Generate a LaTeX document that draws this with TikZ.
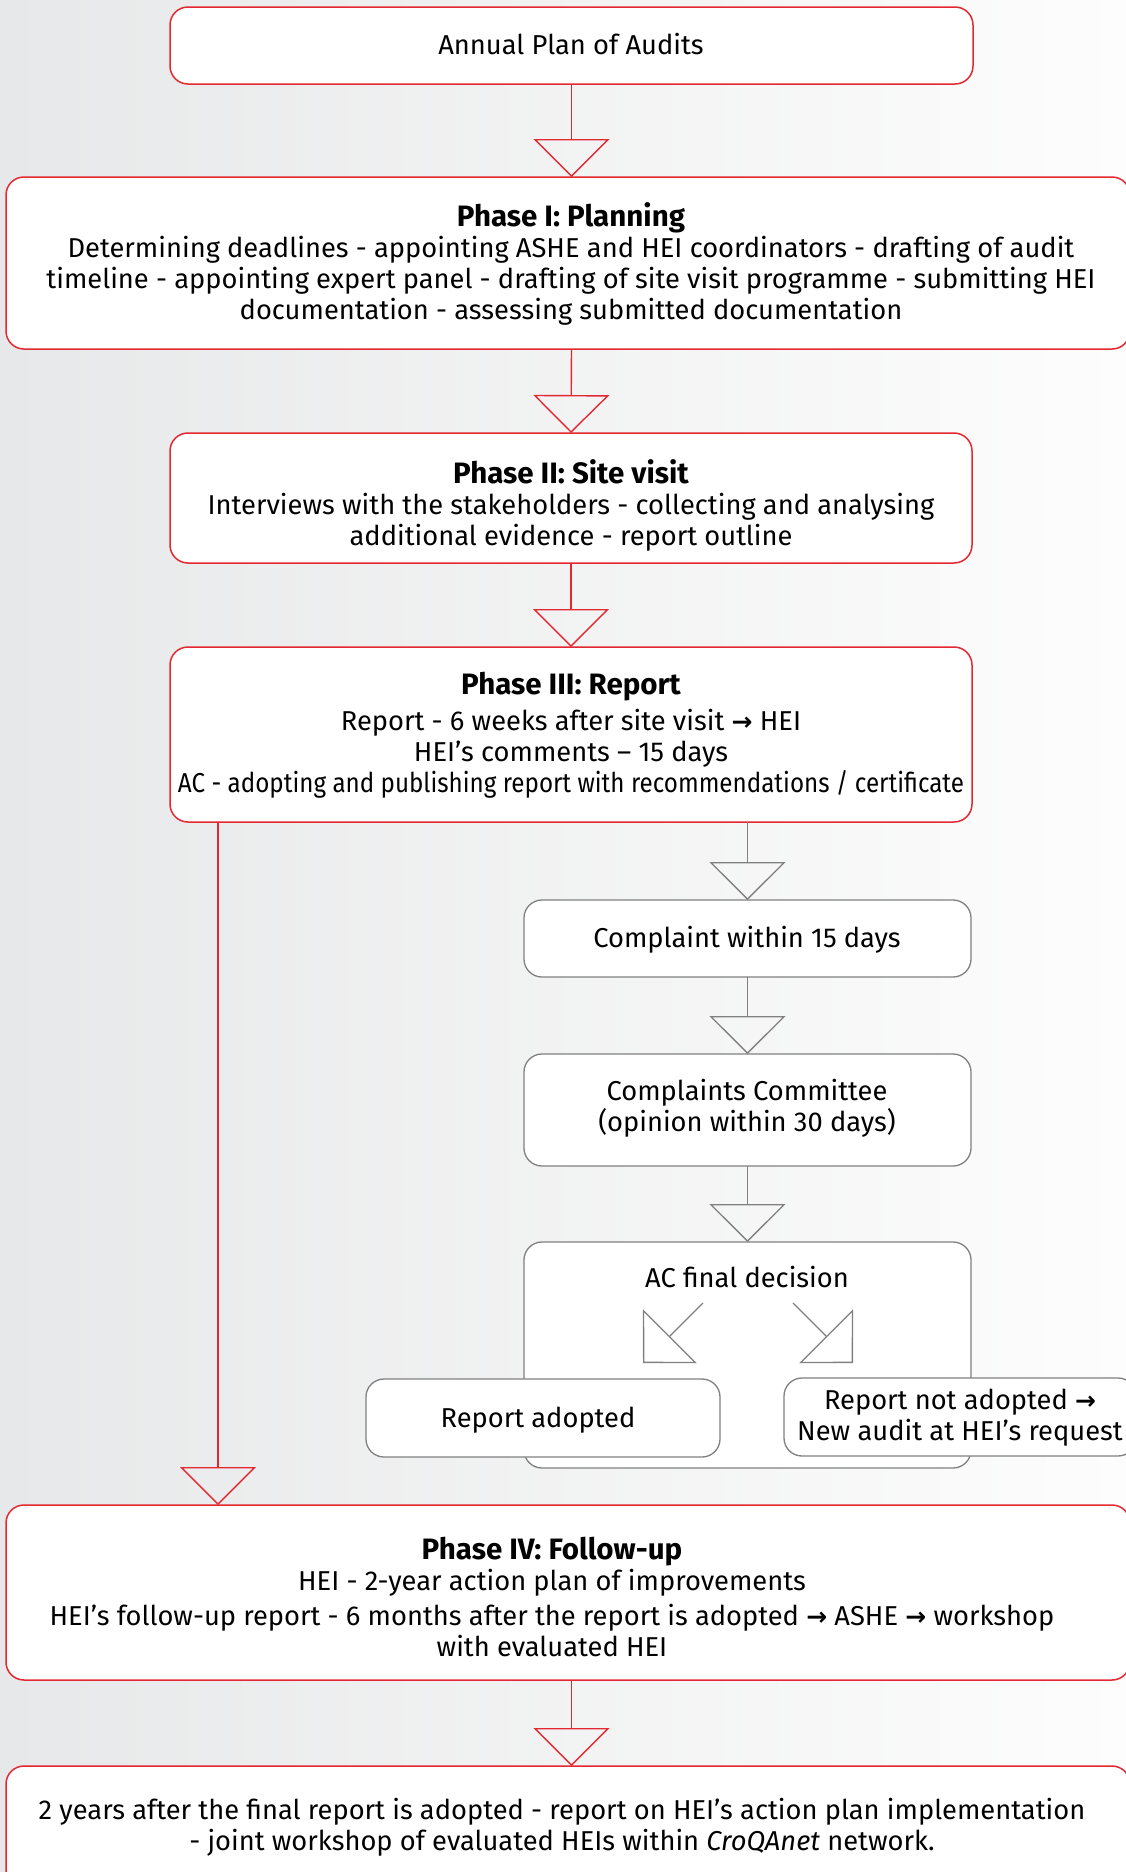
\documentclass[tikz,border=0pt]{standalone}
\usepackage{fontspec}
\usepackage{graphicx}
\setmainfont{Fira Sans}
\newfontfamily\symfont{DejaVu Sans}
\usetikzlibrary{arrows.meta}
\definecolor{ashered}{RGB}{228,40,50}
\definecolor{boxgrey}{RGB}{128,128,128}
\definecolor{bgL}{RGB}{231,232,233}
\definecolor{bgR}{RGB}{253,253,253}
\newcommand{\ar}{{\symfont\bfseries\fontsize{25}{25}\selectfont →}}
\newcommand{\ttl}[1]{{\fontsize{29.5}{31}\selectfont\bfseries #1}}
\tikzset{
  redbox/.style={draw=ashered, line width=1.5pt, fill=white, rounded corners=18pt, inner sep=0pt, outer sep=0pt},
  greybox/.style={draw=boxgrey, line width=1.3pt, fill=white, rounded corners=18pt, inner sep=0pt, outer sep=0pt},
  txt/.style={align=center, inner sep=0pt, font=\fontsize{27.3}{31}\selectfont, text=black},
  redflow/.style={draw=ashered, line width=1.4pt, -{Triangle[open, length=38pt, width=76pt]}},
  greyflow/.style={draw=boxgrey, line width=1.3pt, -{Triangle[open, length=38pt, width=76pt]}},
}
\begin{document}
\begin{tikzpicture}[x=1pt, y=-1pt]
\useasboundingbox (0,0) rectangle (1126,1872);
\clip (0,0) rectangle (1126,1872);
\shade[left color=bgL, right color=bgR] (0,0) rectangle (1126,1872);

% boxes
\node[redbox, minimum width=803pt, minimum height=77pt] (annual) at (571.5,45.5) {};
\node[redbox, minimum width=1124pt, minimum height=172pt] (p1) at (568,263) {};
\node[redbox, minimum width=802pt, minimum height=130pt] (p2) at (571,498) {};
\node[redbox, minimum width=802pt, minimum height=175pt] (p3) at (571,734.5) {};
\node[greybox, minimum width=447pt, minimum height=77pt] (comp) at (747.5,938.5) {};
\node[greybox, minimum width=447pt, minimum height=112pt] (comm) at (747.5,1110) {};
\node[greybox, minimum width=447pt, minimum height=226pt] (acd) at (747.5,1355) {};
\node[redbox, minimum width=1124pt, minimum height=175pt] (p4) at (568,1592.5) {};
\node[redbox, minimum width=1124pt, minimum height=134pt] (final) at (568,1833) {};

% texts
\node[txt] (tannual) at (571,44) {Annual Plan of Audits};
\node[txt] (tp1) at (571,264) {\ttl{Phase I: Planning}\\
Determining deadlines - appointing ASHE and HEI coordinators - drafting of audit\\
timeline - appointing expert panel - drafting of site visit programme - submitting HEI\\
documentation - assessing submitted documentation};
\node[txt] (tp2) at (571,505) {\ttl{Phase II: Site visit}\\
Interviews with the stakeholders - collecting and analysing\\
additional evidence - report outline};
\node[txt] (tp3) at (571,735) {\ttl{Phase III: Report}\\[5pt]
Report - 6 weeks after site visit \ar{} HEI\\
HEI’s comments – 15 days\\
\resizebox{786pt}{\height}{AC - adopting and publishing report with recommendations / certificate}};
\node[txt] (tcomp) at (747,940) {Complaint within 15 days};
\node[txt] (tcomm) at (747,1108) {Complaints Committee\\(opinion within 30 days)};
\node[txt] (tacd) at (747,1277) {AC final decision};
\node[txt] (tp4) at (552,1597) {\ttl{Phase IV: Follow-up}\\
HEI - 2-year action plan of improvements\\[4pt]
HEI’s follow-up report - 6 months after the report is adopted \ar{} ASHE \ar{} workshop\\
with evaluated HEI};
\node[txt] (tfinal) at (562,1827) {2 years after the final report is adopted - report on HEI’s action plan implementation\\
- joint workshop of evaluated HEIs within \textit{CroQAnet} network.};

% connectors main column
\draw[redflow] (annual.south) -- (p1.north -| annual.south);
\draw[redflow] (p1.south -| annual.south) -- (p2.north);
\draw[redflow] (p2.south) -- (p3.north);
\coordinate (lx) at (218,0);
\draw[redflow] (p3.south -| lx) -- (p4.north -| lx);
\draw[redflow] (p4.south -| annual.south) -- (final.north -| annual.south);

% complaint branch
\draw[greyflow] (p3.south -| comp.north) -- (comp.north);
\draw[greyflow] (comp.south) -- (comm.north);
\draw[greyflow] (comm.south) -- (acd.north);

% decision arrows
\coordinate (dla) at (703,1303);
\coordinate (dlb) at (643,1363);
\coordinate (dra) at (793,1303);
\coordinate (drb) at (853,1363);
\draw[greyflow] (dla) -- (dlb);
\draw[greyflow] (dra) -- (drb);

% outcome boxes
\node[greybox, minimum width=354pt, minimum height=78pt] (radopt) at (543,1418) {};
\node[greybox, minimum width=352pt, minimum height=78pt] (rnot) at (960,1417) {};
\node[txt] (tradopt) at (538,1420) {Report adopted};
\node[txt] (trnot) at (960,1418) {Report not adopted \ar\\New audit at HEI’s request};
\end{tikzpicture}
\end{document}
